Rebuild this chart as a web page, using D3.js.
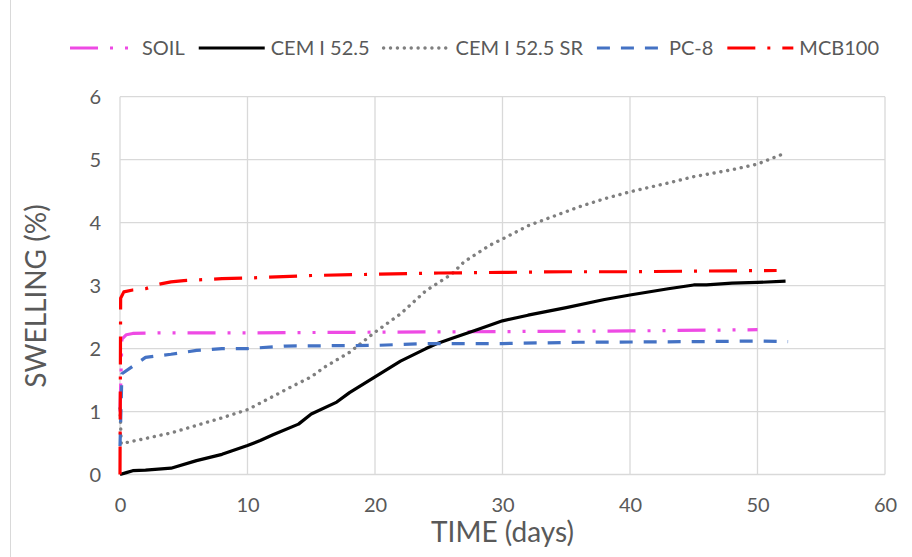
<!DOCTYPE html>
<html>
<head>
<meta charset="utf-8">
<script src="https://cdn.jsdelivr.net/npm/d3@7"></script>
<style>
  html, body { margin: 0; padding: 0; background: #fff; }
  svg { display: block; font-family: Lato, "Open Sans", sans-serif; }
</style>
</head>
<body>
<svg id="chart" width="912" height="557"></svg>
<script>
// Swelling (%) measured against time (days) for each binder
const soil = [[0,1.0],[0.15,2.15],[0.5,2.22],[1,2.24],[3,2.25],[10,2.25],[20,2.26],[30,2.27],[40,2.28],[50,2.3]];
const cem = [[0,0],[0.5,0.03],[1,0.06],[2,0.07],[4,0.1],[6,0.22],[8,0.32],[10,0.46],[11,0.54],[12,0.63],[14,0.8],[15,0.96],[17,1.15],[18,1.3],[20,1.55],[22,1.8],[24,2.0],[25,2.09],[26,2.16],[28,2.3],[30,2.44],[32,2.53],[35,2.65],[38,2.78],[40,2.85],[43,2.95],[45,3.01],[46,3.01],[48,3.04],[50,3.05],[52.2,3.07]];
const cemSR = [[0,1.05],[0.1,0.49],[1.5,0.55],[4,0.66],[6,0.78],[8,0.9],[10,1.03],[12,1.24],[13.5,1.4],[15,1.55],[16,1.7],[18,1.94],[20,2.26],[22,2.55],[24,2.92],[26,3.18],[27,3.38],[29,3.64],[30,3.74],[32,3.95],[34,4.1],[36,4.25],[38,4.38],[40,4.49],[43,4.63],[45,4.73],[48,4.84],[50,4.93],[52,5.09]];
const pc8 = [[0,0.45],[0.15,1.6],[1,1.72],[2,1.86],[4,1.91],[6,1.97],[8,2.0],[10,2.0],[13,2.04],[20,2.05],[24,2.08],[30,2.08],[36,2.1],[45,2.11],[50,2.12],[52.4,2.11]];
const mcb100 = [[0,0],[0.05,2.8],[0.3,2.9],[1,2.93],[2,2.95],[3,3.02],[4,3.06],[5,3.08],[8,3.11],[10,3.12],[15,3.16],[20,3.18],[25,3.2],[30,3.21],[35,3.22],[40,3.22],[45,3.23],[51.5,3.24]];

const seriesNames = ["SOIL", "CEM I 52.5", "CEM I 52.5 SR", "PC-8", "MCB100"];
const seriesData = [soil, cem, cemSR, pc8, mcb100];

const xTicks = [0, 10, 20, 30, 40, 50, 60];
const yTicks = [0, 1, 2, 3, 4, 5, 6];

// stroke styling per series
const styles = [
  { color: "#EE4AE4", width: 3.2, dash: "28 12 3 12 3 12", cap: "butt" },
  { color: "#000000", width: 3.2, dash: null, cap: "butt" },
  { color: "#7F7F7F", width: 3.4, dash: "0.1 6.8", cap: "round" },
  { color: "#4472C4", width: 3.2, dash: "13 11", cap: "butt" },
  { color: "#FF0000", width: 3.2, dash: "28 12 3 12", cap: "butt" }
];

const svg = d3.select("#chart");
const W = 912, H = 557;
const plot = { left: 120, right: 885, top: 96.7, bottom: 474.5 };

svg.append("rect").attr("width", W).attr("height", H).attr("fill", "#fff");
// outer chart frame edge on the left
svg.append("line").attr("x1", 10.5).attr("x2", 10.5).attr("y1", 0).attr("y2", H)
  .attr("stroke", "#D9D9D9").attr("stroke-width", 1);

const x = d3.scaleLinear().domain([0, 60]).range([plot.left, plot.right]);
const y = d3.scaleLinear().domain([0, 6]).range([plot.bottom, plot.top]);

// gridlines
const grid = svg.append("g").attr("stroke", "#D9D9D9").attr("stroke-width", 1.3);
grid.selectAll("line.h").data(yTicks).join("line")
  .attr("x1", plot.left).attr("x2", plot.right)
  .attr("y1", d => y(d)).attr("y2", d => y(d));
grid.selectAll("line.v").data(xTicks).join("line")
  .attr("y1", plot.top).attr("y2", plot.bottom)
  .attr("x1", d => x(d)).attr("x2", d => x(d));

// axes (labels only; lines come from the grid)
const xAxis = svg.append("g").attr("transform", `translate(0,${plot.bottom})`)
  .call(d3.axisBottom(x).tickValues(xTicks).tickFormat(d3.format("d")).tickSize(0).tickPadding(23));
const yAxis = svg.append("g").attr("transform", `translate(${plot.left},0)`)
  .call(d3.axisLeft(y).tickValues(yTicks).tickFormat(d3.format("d")).tickSize(0).tickPadding(19));
[xAxis, yAxis].forEach(a => {
  a.select(".domain").remove();
  a.selectAll("text").attr("fill", "#595959").attr("font-size", 20)
    .attr("font-family", "Lato, sans-serif");
});
yAxis.selectAll("text").attr("dy", "0.36em");
xAxis.selectAll("text").attr("dy", "0.71em");

// series lines
const line = d3.line().x(d => x(d[0])).y(d => y(d[1]));
seriesData.forEach((data, i) => {
  const s = styles[i];
  svg.append("path").datum(data)
    .attr("fill", "none")
    .attr("stroke", s.color)
    .attr("stroke-width", s.width)
    .attr("stroke-linecap", s.cap)
    .attr("stroke-linejoin", "round")
    .attr("stroke-dasharray", s.dash)
    .attr("d", line);
});

// axis titles
svg.append("text").attr("x", (plot.left + plot.right) / 2).attr("y", 542)
  .attr("text-anchor", "middle").attr("fill", "#595959").attr("font-size", 28)
  .text("TIME (days)");
svg.append("text").attr("transform", "translate(46,296) rotate(-90)")
  .attr("text-anchor", "middle").attr("fill", "#595959").attr("font-size", 28)
  .text("SWELLING (%)");

// legend
const legend = svg.append("g");
let lx = 70;
const ly = 48;
seriesNames.forEach((name, i) => {
  const s = styles[i];
  legend.append("line")
    .attr("x1", lx).attr("x2", lx + 66).attr("y1", ly).attr("y2", ly)
    .attr("stroke", s.color).attr("stroke-width", s.width)
    .attr("stroke-linecap", s.cap).attr("stroke-dasharray", s.dash);
  const t = legend.append("text")
    .attr("x", lx + 72).attr("y", ly).attr("dy", "0.35em")
    .attr("fill", "#595959").attr("font-size", 20).text(name);
  lx += 72 + t.node().getComputedTextLength() + 14;
});
</script>
</body>
</html>
